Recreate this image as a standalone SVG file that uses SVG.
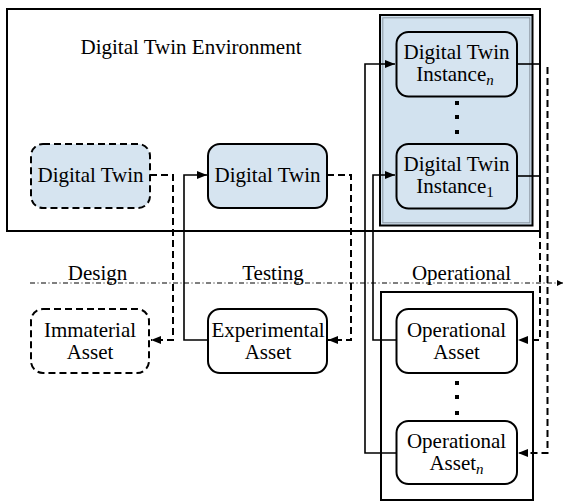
<svg xmlns="http://www.w3.org/2000/svg" width="565" height="502" viewBox="0 0 565 502">
  <defs>
    <marker id="arrow" markerUnits="userSpaceOnUse" markerWidth="11" markerHeight="9" refX="10" refY="4" orient="auto">
      <path d="M0,0 L10,4 L0,8 z" fill="#000"/>
    </marker>
    <marker id="arrow-small" markerUnits="userSpaceOnUse" markerWidth="7" markerHeight="7" refX="6" refY="3" orient="auto">
      <path d="M0,0 L6,3 L0,6 z" fill="#000"/>
    </marker>
    <style>
      text { font-family: "Liberation Serif", "Times New Roman", serif; font-size: 21px; fill: #000; text-anchor: middle; }
      .box { fill: #fff; stroke: #000; stroke-width: 2; }
      .twin { fill: #d6e4f0; stroke: #000; stroke-width: 2; }
      .dashed { stroke-dasharray: 7 4; }
      .solid-link { fill: none; stroke: #000; stroke-width: 1.6; }
      .dashed-link { fill: none; stroke: #000; stroke-width: 2; stroke-dasharray: 7 4; }
      .frame { fill: none; stroke: #000; stroke-width: 2; }
      .dot { fill: #000; }
    </style>
  </defs>

  <!-- Digital Twin Environment frame -->
  <g id="environment">
    <rect class="frame" x="7" y="9" width="533" height="222"/>
    <text x="191" y="54">Digital Twin Environment</text>
  </g>

  <!-- Container of twin instances -->
  <g id="instances">
    <rect x="380" y="15" width="152.5" height="210.5" fill="#d2e2ef" stroke="#000" stroke-width="2"/>
    <rect x="382.8" y="17.8" width="147" height="205" fill="none" stroke="#8a96a2" stroke-width="1"/>
  </g>

  <!-- Container of operational assets -->
  <g id="operational-assets">
    <rect class="frame" x="381" y="292" width="152" height="208"/>
  </g>

  <!-- Lifecycle phase axis -->
  <g id="phases">
    <line x1="30" y1="283" x2="563" y2="283" stroke="#000" stroke-width="1" stroke-dasharray="5 2.5 1 2.5" marker-end="url(#arrow-small)"/>
    <text x="97.5" y="280">Design</text>
    <text x="273" y="280">Testing</text>
    <text x="461.5" y="280">Operational</text>
  </g>

  <!-- Connectors -->
  <g id="connectors">
    <path class="dashed-link" d="M150,175 H173 V340 H151" marker-end="url(#arrow)"/>
    <path class="solid-link" d="M208,340 H184 V175 H207" marker-end="url(#arrow)"/>
    <path class="dashed-link" d="M327,175 H351 V340 H328" marker-end="url(#arrow)"/>
    <path class="solid-link" d="M396,340 H373 V175 H395" marker-end="url(#arrow)"/>
    <path class="solid-link" d="M396,453 H365 V64 H395" marker-end="url(#arrow)"/>
    <path class="solid-link" d="M517,176 H540"/>
    <path class="dashed-link" d="M540,176 V340 H518" marker-end="url(#arrow)"/>
    <path class="solid-link" d="M517,64 H540"/>
    <path class="dashed-link" d="M547.5,67 V453 H518" marker-end="url(#arrow)"/>
  </g>

  <!-- Design phase -->
  <g id="design-twin">
    <rect class="twin dashed" x="31" y="144" width="119" height="64" rx="12"/>
    <text x="90.5" y="182">Digital Twin</text>
  </g>
  <g id="immaterial-asset">
    <rect class="box dashed" x="31" y="309" width="118" height="64" rx="12"/>
    <text x="90" y="336.5">Immaterial</text>
    <text x="90" y="358.5">Asset</text>
  </g>

  <!-- Testing phase -->
  <g id="testing-twin">
    <rect class="twin" x="208" y="144" width="119" height="64" rx="12"/>
    <text x="267.5" y="182">Digital Twin</text>
  </g>
  <g id="experimental-asset">
    <rect class="box" x="208" y="309" width="119" height="64" rx="12"/>
    <text x="268" y="336.5">Experimental</text>
    <text x="268" y="358.5">Asset</text>
  </g>

  <!-- Operational phase: twin instances -->
  <g id="twin-instance-n">
    <rect class="twin" x="396.5" y="32" width="120.5" height="64.5" rx="12"/>
    <text x="456.5" y="59">Digital Twin</text>
    <text x="455" y="81">Instance<tspan font-style="italic" font-size="15" dy="4">n</tspan></text>
  </g>
  <g id="instance-dots">
    <rect class="dot" x="455" y="101" width="4" height="4"/>
    <rect class="dot" x="455" y="115" width="4" height="4"/>
    <rect class="dot" x="455" y="130" width="4" height="4"/>
  </g>
  <g id="twin-instance-1">
    <rect class="twin" x="396.5" y="144" width="120.5" height="64.5" rx="12"/>
    <text x="456.5" y="171">Digital Twin</text>
    <text x="455" y="193">Instance<tspan font-size="15" dy="4">1</tspan></text>
  </g>

  <!-- Operational phase: assets -->
  <g id="operational-asset">
    <rect class="box" x="396.5" y="309" width="120.5" height="64" rx="12"/>
    <text x="456.5" y="336.5">Operational</text>
    <text x="456.5" y="358.5">Asset</text>
  </g>
  <g id="asset-dots">
    <rect class="dot" x="455" y="381" width="4" height="4"/>
    <rect class="dot" x="455" y="395" width="4" height="4"/>
    <rect class="dot" x="455" y="411" width="4" height="4"/>
  </g>
  <g id="operational-asset-n">
    <rect class="box" x="396.5" y="421" width="120.5" height="63" rx="12"/>
    <text x="456.5" y="448">Operational</text>
    <text x="456.5" y="470">Asset<tspan font-style="italic" font-size="15" dy="4">n</tspan></text>
  </g>
</svg>
